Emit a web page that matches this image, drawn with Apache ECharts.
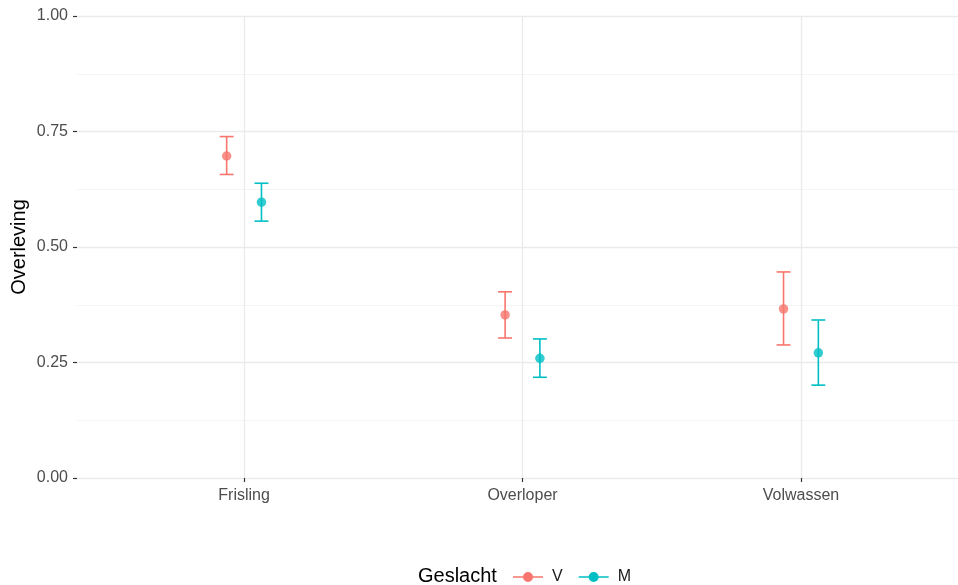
<!DOCTYPE html>
<html>
<head>
<meta charset="utf-8">
<script src="https://cdn.jsdelivr.net/npm/echarts@6/dist/echarts.min.js"></script>
<style>
html,body{margin:0;padding:0;background:#fff;}
#chart{width:958px;height:585px;}
</style>
</head>
<body>
<div id="chart"></div>
<script>
// ---- data ----
const categories = ['Frisling', 'Overloper', 'Volwassen'];
const groups = ['V', 'M'];
const vMean = [0.697, 0.353, 0.366];
const vLow  = [0.657, 0.303, 0.288];
const vHigh = [0.739, 0.403, 0.446];
const mMean = [0.597, 0.259, 0.271];
const mLow  = [0.556, 0.218, 0.201];
const mHigh = [0.638, 0.301, 0.342];
const yTicks = [0, 0.25, 0.5, 0.75, 1];
const xTicks = [1, 2, 3];

// ---- layout / style ----
const FONT = '"Liberation Sans", Arial, sans-serif';
const colors = {V: '#F8766D', M: '#00BFC4'};
const dodge = 0.0625;
const capHalf = 0.025;

function pts(meanArr, off) { return meanArr.map((v, i) => [i + 1 + off, v]); }
function bars(lowArr, highArr, off) { return lowArr.map((l, i) => [i + 1 + off, l, highArr[i]]); }

function errRender(color) {
  return function (params, api) {
    const x = api.value(0);
    const lo = api.coord([x, api.value(1)]);
    const hi = api.coord([x, api.value(2)]);
    const hw = api.size([capHalf, 0])[0];
    const st = {stroke: color, lineWidth: 1.6, fill: null};
    return {
      type: 'group',
      children: [
        {type: 'line', shape: {x1: lo[0], y1: lo[1], x2: hi[0], y2: hi[1]}, style: st},
        {type: 'line', shape: {x1: lo[0] - hw, y1: lo[1], x2: lo[0] + hw, y2: lo[1]}, style: st},
        {type: 'line', shape: {x1: hi[0] - hw, y1: hi[1], x2: hi[0] + hw, y2: hi[1]}, style: st}
      ]
    };
  };
}

const legendIcon = 'path://M0,4.3 L30,4.3 L30,5.7 L0,5.7 Z M15,0 A5,5 0 1,1 15,10 A5,5 0 1,1 15,0 Z';

const chart = echarts.init(document.getElementById('chart'), null, {renderer: 'canvas'});
const option = {
  backgroundColor: '#ffffff',
  animation: false,
  textStyle: {fontFamily: FONT},
  grid: [
    {left: 77, top: 16, height: 462, width: 891, outerBoundsMode: 'none', containLabel: false}
  ],
  xAxis: [
    {
      type: 'value', min: 0.4, max: 3.6,
      axisLine: {show: false},
      axisTick: {show: true, length: 4, customValues: xTicks, lineStyle: {color: '#333333', width: 1.2}},
      splitLine: {show: true, lineStyle: {color: '#EBEBEB', width: 1.3}},
      axisLabel: {
        show: true, margin: 10, color: '#4D4D4D', fontSize: 16, fontFamily: FONT,
        customValues: xTicks,
        formatter: v => categories[Math.round(v) - 1] || ''
      }
    }
  ],
  yAxis: [
    {
      type: 'value', min: 0, max: 1, interval: 0.25,
      name: 'Overleving', nameLocation: 'middle', nameGap: 48, nameMoveOverlap: false,
      nameTextStyle: {color: '#000000', fontSize: 20, fontFamily: FONT},
      axisLine: {show: false},
      axisTick: {show: true, length: 4, lineStyle: {color: '#333333', width: 1.2}},
      axisLabel: {
        margin: 9, color: '#4D4D4D', fontSize: 16, fontFamily: FONT,
        formatter: v => v.toFixed(2)
      },
      splitLine: {show: true, lineStyle: {color: '#EBEBEB', width: 1.3}},
      minorTick: {show: false, splitNumber: 2},
      minorSplitLine: {show: true, lineStyle: {color: '#F4F4F4', width: 1}}
    }
  ],
  graphic: [
    {
      type: 'text', left: 418, top: 566,
      style: {text: 'Geslacht', font: '20px ' + FONT, fill: '#000000'}
    }
  ],
  legend: {
    left: 508, top: 564, itemWidth: 30, itemHeight: 10, itemGap: 16,
    textStyle: {color: '#1A1A1A', fontSize: 16, fontFamily: FONT, padding: [0, 0, 0, 4]},
    data: groups.map(g => ({name: g, icon: legendIcon, itemStyle: {color: colors[g]}}))
  },
  series: [
    {
      name: 'V', type: 'custom',
      renderItem: errRender(colors.V), data: bars(vLow, vHigh, -dodge),
      itemStyle: {color: colors.V}, encode: {x: 0, y: [1, 2]}, z: 2
    },
    {
      name: 'M', type: 'custom',
      renderItem: errRender(colors.M), data: bars(mLow, mHigh, dodge),
      itemStyle: {color: colors.M}, encode: {x: 0, y: [1, 2]}, z: 2
    },
    {
      name: 'V', type: 'scatter',
      data: pts(vMean, -dodge), symbol: 'circle', symbolSize: 9.5,
      itemStyle: {color: colors.V}, z: 3
    },
    {
      name: 'M', type: 'scatter',
      data: pts(mMean, dodge), symbol: 'circle', symbolSize: 9.5,
      itemStyle: {color: colors.M}, z: 3
    }
  ]
};
chart.setOption(option);
</script>
</body>
</html>
